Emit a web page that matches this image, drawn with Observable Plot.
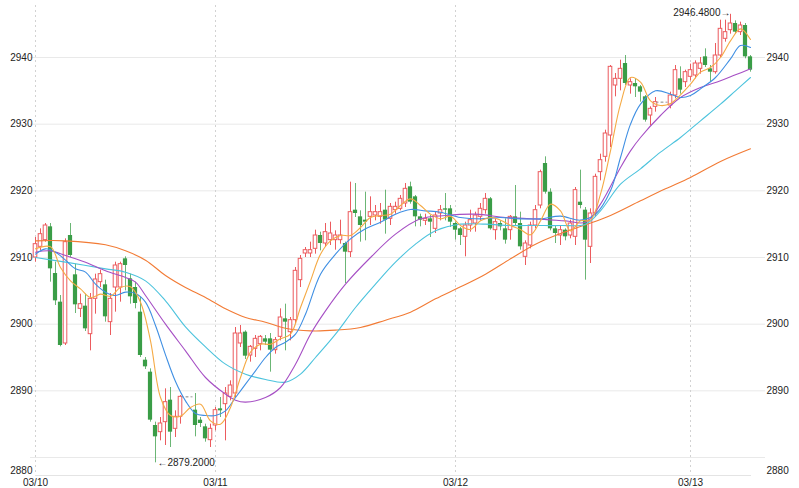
<!DOCTYPE html>
<html><head><meta charset="utf-8">
<script src="https://cdn.jsdelivr.net/npm/d3@7"></script>
<script src="https://cdn.jsdelivr.net/npm/@observablehq/plot@0.6"></script>
<style>html,body{margin:0;padding:0;background:#fff}svg{display:block}</style>
</head><body><div id="chart"></div>
<script>
const dayLabels = ["03/10","03/11","03/12","03/13"];
const dayStart = [0,36,84,131];
const yTicks = [2890,2900,2910,2920,2930,2940];

const open = [
2910.0,2911.6,2912.6,2914.6,2907.6,2903.3,2897.1,2913.3,2907.4,2902.3,
2902.7,2898.5,2903.8,2906.3,2905.9,2900.3,2905.5,2905.5,2909.8,2906.8,
2905.5,2901.8,2894.6,2892.8,2884.8,2883.8,2885.3,2888.6,2884.3,2886.1,
2889.1,2889.1,2887.1,2885.6,2884.6,2882.6,2884.8,2887.3,2888.0,2889.1,
2889.6,2897.1,2898.8,2895.3,2896.3,2897.0,2897.8,2897.8,2896.1,2898.1,
2900.8,2898.8,2900.6,2906.6,2910.6,2910.6,2911.3,2913.3,2912.1,2912.6,
2912.6,2912.6,2912.1,2910.8,2917.1,2916.1,2915.6,2916.1,2916.3,2916.1,
2917.1,2915.8,2917.1,2917.3,2918.1,2920.6,2919.1,2916.1,2915.5,2915.8,
2914.3,2916.6,2917.3,2917.3,2915.1,2914.3,2913.1,2914.8,2915.1,2916.1,
2917.1,2918.8,2914.1,2915.1,2914.3,2914.1,2916.1,2915.1,2910.1,2911.8,
2914.8,2917.8,2924.1,2919.8,2914.3,2913.3,2914.1,2913.3,2913.1,2918.3,
2917.1,2911.6,2916.6,2922.8,2925.1,2928.3,2935.8,2936.8,2939.1,2935.8,
2936.1,2935.6,2934.1,2931.3,2932.6,2933.3,2933.3,2932.8,2934.3,2936.8,
2936.3,2937.1,2937.3,2938.3,2940.1,2938.3,2937.8,2940.3,2942.8,2944.1,
2945.1,2943.8,2944.8,2940.1];
const high = [
2913.0,2914.3,2915.1,2915.1,2909.3,2904.3,2912.8,2915.1,2909.0,2904.5,
2904.5,2904.6,2907.5,2908.1,2906.6,2904.6,2909.3,2909.3,2910.1,2907.5,
2906.3,2904.0,2895.0,2893.3,2885.3,2886.0,2890.3,2890.5,2887.0,2889.3,
2889.1,2889.1,2889.6,2886.0,2885.0,2885.0,2887.5,2889.0,2890.5,2891.5,
2899.5,2899.8,2899.0,2896.8,2898.3,2898.3,2898.3,2898.6,2898.0,2902.3,
2903.0,2901.0,2908.5,2910.3,2911.5,2912.3,2914.1,2913.8,2915.1,2915.3,
2914.0,2915.6,2912.3,2921.3,2921.1,2917.0,2919.8,2919.1,2917.8,2918.1,
2920.1,2918.1,2918.3,2919.3,2921.1,2921.3,2919.3,2916.5,2916.5,2916.3,
2916.8,2917.8,2919.6,2917.8,2915.3,2914.5,2915.3,2917.1,2916.8,2918.1,
2919.6,2919.0,2915.8,2915.5,2915.8,2916.3,2920.8,2916.8,2912.5,2915.3,
2917.8,2923.1,2925.1,2920.3,2914.8,2914.8,2914.3,2915.6,2920.5,2923.1,
2917.5,2917.3,2922.5,2925.5,2929.1,2938.8,2937.6,2939.6,2940.3,2936.8,
2936.8,2935.8,2934.3,2932.6,2934.0,2933.3,2933.3,2934.8,2938.8,2938.6,
2938.1,2939.0,2939.5,2940.0,2941.3,2938.8,2942.1,2945.6,2945.6,2946.48,
2945.5,2945.3,2945.1,2940.3];
const low = [
2909.3,2911.0,2912.3,2906.3,2902.8,2896.6,2896.8,2910.0,2901.6,2901.0,
2898.9,2896.0,2901.5,2905.5,2900.3,2898.3,2901.8,2903.3,2905.0,2903.0,
2902.3,2895.0,2893.2,2885.3,2879.2,2882.5,2881.8,2881.5,2883.0,2885.0,
2889.1,2889.1,2883.1,2884.5,2882.3,2881.5,2884.0,2886.0,2882.5,2888.5,
2889.0,2896.5,2894.7,2894.3,2895.0,2896.0,2896.8,2892.8,2895.5,2897.5,
2896.0,2897.5,2900.0,2905.5,2910.0,2910.0,2910.5,2911.0,2911.5,2911.8,
2911.1,2912.0,2906.1,2910.0,2916.0,2912.3,2912.5,2914.8,2915.5,2915.0,
2913.5,2914.8,2916.5,2917.0,2917.5,2918.0,2914.6,2914.6,2914.8,2913.0,
2913.6,2915.5,2915.5,2914.5,2912.6,2911.8,2910.1,2913.8,2913.8,2915.5,
2916.5,2914.1,2912.6,2914.0,2912.0,2912.6,2914.8,2911.1,2908.8,2911.3,
2914.3,2917.3,2919.5,2914.0,2912.1,2911.8,2912.5,2912.8,2911.8,2917.3,
2906.6,2909.1,2916.0,2921.5,2924.3,2926.5,2934.1,2935.0,2935.8,2934.5,
2934.0,2933.3,2930.3,2929.8,2931.8,2933.3,2933.3,2932.3,2933.8,2934.5,
2935.5,2936.5,2936.8,2937.5,2938.5,2936.3,2937.5,2940.0,2942.3,2943.5,
2943.5,2943.3,2939.8,2937.8];
const close = [
2912.0,2913.5,2914.8,2908.3,2903.5,2896.8,2912.3,2910.3,2902.9,2903.0,
2899.3,2903.8,2906.7,2907.5,2901.1,2903.8,2908.8,2909.0,2908.8,2904.1,
2903.1,2895.3,2893.6,2885.6,2883.1,2885.1,2888.3,2883.8,2886.1,2889.1,
2889.1,2889.1,2884.8,2885.1,2882.8,2884.3,2887.1,2887.0,2889.6,2890.8,
2898.6,2898.6,2895.2,2896.6,2897.8,2898.1,2897.3,2896.1,2897.6,2901.0,
2900.3,2900.6,2908.0,2909.8,2911.1,2911.1,2913.3,2912.1,2913.8,2913.6,
2913.3,2913.3,2910.8,2916.8,2916.6,2914.8,2915.3,2916.8,2916.8,2916.8,
2915.6,2917.6,2917.6,2918.8,2920.3,2918.3,2916.1,2915.6,2915.8,2915.3,
2916.3,2917.1,2917.1,2915.3,2914.1,2913.3,2914.8,2915.6,2916.3,2917.3,
2918.8,2914.3,2915.3,2914.6,2912.6,2916.1,2915.1,2911.6,2912.1,2914.8,
2917.1,2922.8,2919.8,2914.3,2913.6,2914.1,2913.1,2915.1,2920.1,2917.8,
2912.6,2916.6,2922.1,2924.6,2928.6,2938.6,2936.8,2938.3,2936.1,2936.3,
2935.6,2934.8,2930.6,2932.3,2933.3,2933.3,2933.3,2934.3,2938.1,2935.1,
2937.8,2938.1,2939.1,2939.1,2938.8,2937.8,2940.3,2944.3,2943.8,2945.1,
2943.8,2944.8,2940.1,2938.1];

// moving averages (bar index, value)
const ma5At = [0,3,5,7,9,11,13,15,17,19,21,23,25,27,29,31,33,35,37,39,41,43,45,47,49,51,53,55,57,59,61,63,65,67,69,71,73,75,77,79,81,83,85,87,89,91,93,95,97,99,101,103,105,107,109,111,113,115,117,119,121,123,125,127,129,131,133,135,137,139,141,143];
const ma5 = [2911.3,2911.6,2908.5,2906.5,2905.3,2904.0,2904.5,2904.2,2905.5,2905.6,
2903.3,2897.5,2889.0,2886.3,2886.2,2887.5,2888.0,2885.5,2885.0,2887.5,
2892.0,2895.8,2897.0,2897.0,2897.8,2898.5,2902.5,2906.5,2910.5,2912.5,
2913.3,2913.3,2914.5,2916.0,2916.3,2916.5,2917.8,2918.8,2917.8,2916.5,
2915.8,2916.2,2914.8,2914.2,2915.5,2916.0,2915.6,2914.8,2914.2,2913.4,
2915.5,2918.0,2917.0,2914.0,2915.5,2915.6,2919.5,2926.0,2933.0,2937.0,
2936.3,2933.5,2932.8,2933.1,2934.4,2936.0,2937.8,2938.5,2940.0,2942.5,
2944.3,2942.7];
const ma10At = [0,2,4,6,8,10,12,14,16,18,20,22,24,26,28,30,32,34,36,38,40,42,44,46,48,50,52,54,57,60,63,66,69,72,75,78,81,85,89,93,97,101,105,109,112,115,117,119,121,124,127,129,131,133,136,139,141,143];
const ma10 = [2910.5,2911.3,2910.8,2909.6,2908.3,2907.8,2906.0,2904.8,2904.3,2904.8,
2904.6,2903.3,2899.8,2895.4,2891.4,2888.5,2886.6,2886.3,2886.3,2887.0,
2889.0,2891.0,2893.0,2895.0,2896.5,2897.3,2898.5,2901.5,
2907.5,2910.5,2912.8,2914.3,2915.3,2916.5,2917.2,2917.0,2916.8,
2916.0,2915.8,2916.0,2915.8,2915.8,2916.2,2915.6,
2916.5,2920.0,2925.0,2930.0,2933.0,2935.0,2934.5,2934.0,2934.3,2935.3,2937.0,2939.8,2941.8,2941.5];
const ma20At = [0,3,6,10,14,18,20,22,26,30,34,38,40,42,46,49,52,55,58,62,67,72,77,82,88,94,100,106,110,113,117,119,121,125,129,133,137,140,143];
const ma20 = [2910.8,2911.0,2910.3,2909.3,2908.0,2907.0,2906.3,2904.3,2900.0,2896.0,
2892.0,2889.5,2888.6,2888.3,2889.0,2890.5,2894.0,2898.5,2902.0,2906.0,
2910.0,2913.5,2915.8,2916.3,2916.5,2916.0,2915.8,2915.5,2915.3,2918.0,
2923.5,2926.0,2928.0,2931.3,2934.0,2935.5,2936.5,2937.4,2938.3];
const ma30At = [0,6,14,18,22,26,30,34,38,42,46,50,53,56,60,64,68,72,76,80,85,90,95,100,105,110,113,117,121,125,129,133,137,140,143];
const ma30 = [2910.0,2909.3,2908.3,2907.8,2906.5,2903.5,2899.6,2896.6,2894.0,2892.5,
2891.7,2891.3,2892.5,2895.0,2898.5,2902.5,2906.0,2909.3,2912.0,2914.0,
2915.0,2915.0,2914.8,2914.8,2914.8,2915.0,2917.0,2921.0,2923.3,2925.8,
2928.0,2930.5,2933.0,2935.0,2937.0];
const ma60At = [0,6,14,18,22,26,30,34,38,42,46,50,55,60,65,70,75,80,85,90,95,100,105,110,115,121,126,131,137,143];
const ma60 = [2912.5,2912.5,2911.9,2911.0,2909.6,2907.3,2905.5,2904.0,2902.3,2901.0,
2900.3,2899.4,2899.0,2899.1,2899.5,2900.6,2901.8,2903.8,2905.6,2907.5,
2909.8,2912.0,2913.6,2914.9,2916.3,2918.5,2920.3,2922.0,2924.4,2926.3];

const RED = "#ec5b5e", GREEN = "#3a9d47";
const candles = open.map((o, i) => ({i, o, h: high[i], l: low[i], c: close[i]}));
const up = candles.filter(d => d.c > d.o);
const down = candles.filter(d => d.c < d.o);
const flat = candles.filter(d => d.c === d.o);
const series = (at, vals) => at.map((i, k) => ({i, v: vals[k]}));
const hi = candles.reduce((a, b) => b.h > a.h ? b : a);
const lo = candles.reduce((a, b) => b.l < a.l ? b : a);
const lineOpts = (color) => ({x: "i", y: "v", stroke: color, strokeWidth: 1.1, curve: "catmull-rom"});

const chart = Plot.plot({
  width: 799, height: 488,
  marginLeft: 35, marginRight: 49, marginTop: 5, marginBottom: 13,
  x: {domain: [0, 143]},
  y: {domain: [2877.3, 2947.8]},
  style: {fontFamily: "'Liberation Sans', Arial, sans-serif", fontSize: "10px", color: "#333", background: "#fff"},
  marks: [
    Plot.gridY([2880, ...yTicks], {stroke: "#e9e9e9", strokeOpacity: 1, insetLeft: -5, insetRight: -15}),
    Plot.gridX(dayStart, {stroke: "#d2d2d2", strokeOpacity: 1, strokeDasharray: "2,3"}),
    Plot.frame({anchor: "bottom", stroke: "#e4e4e4"}),
    Plot.axisX(dayStart, {tickSize: 0, tickPadding: 3, tickFormat: d => dayLabels[dayStart.indexOf(d)], fill: "#222", label: null}),
    Plot.axisY(yTicks, {anchor: "left", tickSize: 0, tickPadding: 3, tickFormat: "d", fill: "#222", label: null}),
    Plot.axisY([2880], {anchor: "left", tickSize: 0, tickPadding: 3, dy: 13, tickFormat: "d", fill: "#222", label: null}),
    Plot.axisY(yTicks, {anchor: "right", tickSize: 0, tickPadding: 16, tickFormat: "d", fill: "#222", label: null}),
    Plot.axisY([2880], {anchor: "right", tickSize: 0, tickPadding: 16, dy: 13, tickFormat: "d", fill: "#222", label: null}),
    Plot.ruleX(down, {x: "i", y1: "l", y2: "h", stroke: GREEN, strokeOpacity: 0.75}),
    Plot.ruleX(up, {x: "i", y1: "l", y2: "h", stroke: RED}),
    Plot.rect(down, {x1: d => d.i - 0.42, x2: d => d.i + 0.42, y1: "o", y2: "c", fill: GREEN}),
    Plot.rect(up, {x1: d => d.i - 0.36, x2: d => d.i + 0.36, y1: "o", y2: "c", fill: "#fff", stroke: RED, strokeWidth: 1}),
    Plot.ruleY(flat, {x1: d => d.i - 0.7, x2: d => d.i + 0.7, y: "o", stroke: "#999", strokeDasharray: "2,2"}),
    Plot.line(series(ma60At, ma60), lineOpts("#f27b35")),
    Plot.line(series(ma30At, ma30), lineOpts("#4cc3dd")),
    Plot.line(series(ma20At, ma20), lineOpts("#a64fc4")),
    Plot.line(series(ma10At, ma10), lineOpts("#3f8fe3")),
    Plot.line(series(ma5At, ma5), lineOpts("#f5aa45")),
    Plot.text([hi], {x: "i", y: "h", text: d => d.h.toFixed(4) + "\u2192", textAnchor: "end", dx: 0, dy: -2, fill: "#222"}),
    Plot.text([lo], {x: "i", y: "l", text: d => "\u2190" + d.l.toFixed(4), textAnchor: "start", dx: 2, fill: "#222"})
  ]
});
document.getElementById("chart").appendChild(chart);
</script>
</body></html>
